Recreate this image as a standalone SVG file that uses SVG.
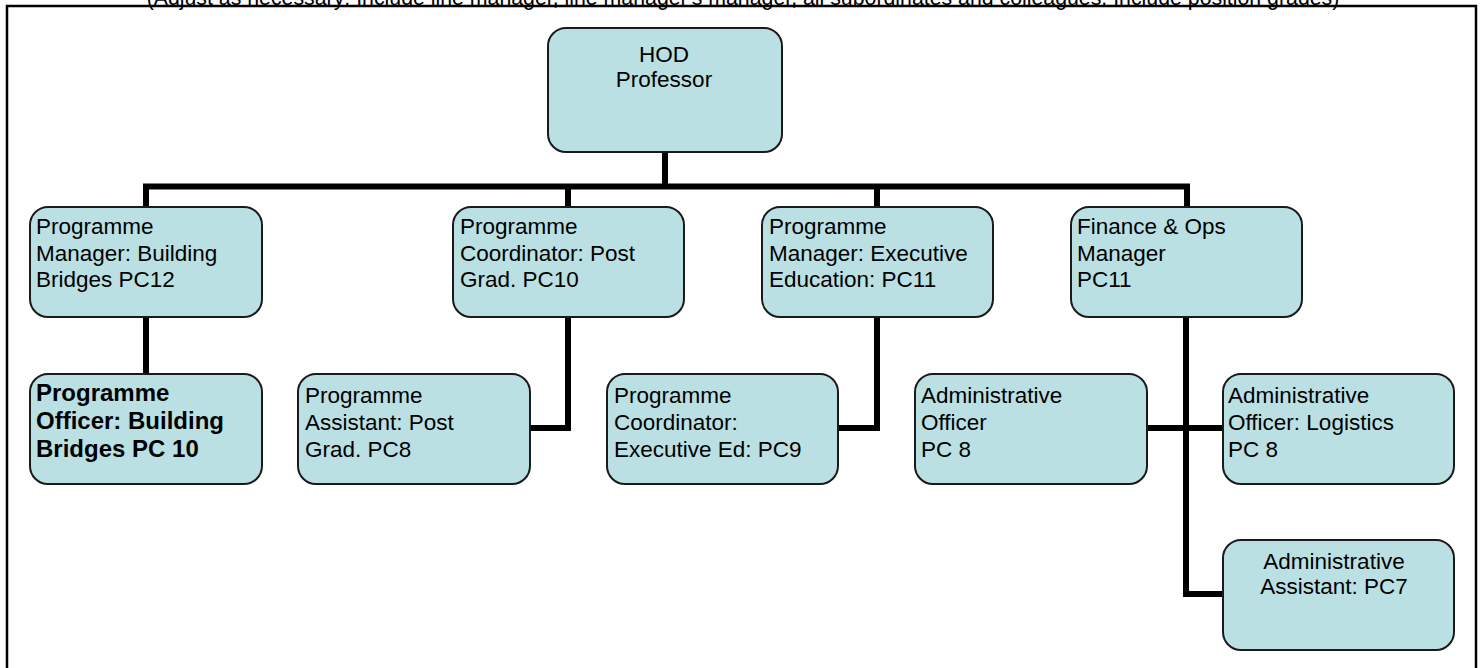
<svg xmlns="http://www.w3.org/2000/svg" width="1483" height="668" viewBox="0 0 1483 668">
<style>
.box{fill:#BAE0E3;stroke:#1a1a1a;stroke-width:2}
.t{font-family:"Liberation Sans",Arial,sans-serif;font-size:22.5px;fill:#000}
.b{font-family:"Liberation Sans",Arial,sans-serif;font-size:24px;font-weight:bold;fill:#000}
.c{text-anchor:middle}
.hdr{font-family:"Liberation Sans",Arial,sans-serif;font-size:21.3px;fill:#000;text-anchor:middle}
.conn{fill:none;stroke:#000;stroke-width:6;stroke-linejoin:miter;stroke-linecap:butt}
</style>
<rect width="1483" height="668" fill="#fff"/>
<rect x="7" y="6" width="1469" height="700" fill="none" stroke="#000" stroke-width="2.5"/>
<text class="hdr" x="743" y="4.5">(Adjust as necessary: Include line manager, line manager's manager, all subordinates and colleagues. Include position grades)</text>
<g id="connectors">
<path class="conn" d="M665 152V186.5M143 186.5H1190M146 186.5V207M568 186.5V207M877 186.5V207M1187 186.5V207"/>
<path class="conn" d="M146 317V374"/>
<path class="conn" d="M568 317V428H530"/>
<path class="conn" d="M877 317V428H838"/>
<path class="conn" d="M1186 317V594H1223M1147 428H1223"/>
</g>
<g id="hod">
<rect class="box" x="548" y="28" width="234" height="124" rx="18"/>
<text class="t c" x="664" y="62">HOD</text>
<text class="t c" x="664" y="87">Professor</text>
</g>
<g id="pm-building-bridges">
<rect class="box" x="30" y="207" width="232" height="110" rx="18"/>
<text class="t" x="36" y="234">Programme</text>
<text class="t" x="36" y="261">Manager: Building</text>
<text class="t" x="36" y="287">Bridges PC12</text>
</g>
<g id="pc-post-grad">
<rect class="box" x="453" y="207" width="231" height="110" rx="18"/>
<text class="t" x="460" y="234">Programme</text>
<text class="t" x="460" y="261">Coordinator: Post</text>
<text class="t" x="460" y="287">Grad. PC10</text>
</g>
<g id="pm-exec-ed">
<rect class="box" x="762" y="207" width="231" height="110" rx="18"/>
<text class="t" x="769" y="234">Programme</text>
<text class="t" x="769" y="261">Manager: Executive</text>
<text class="t" x="769" y="287">Education: PC11</text>
</g>
<g id="finance-ops">
<rect class="box" x="1071" y="207" width="231" height="110" rx="18"/>
<text class="t" x="1077" y="234">Finance &amp; Ops</text>
<text class="t" x="1077" y="261">Manager</text>
<text class="t" x="1077" y="287">PC11</text>
</g>
<g id="po-building-bridges">
<rect class="box" x="30" y="374" width="232" height="110" rx="18"/>
<text class="b" x="36" y="401">Programme</text>
<text class="b" x="36" y="429">Officer: Building</text>
<text class="b" x="36" y="457">Bridges PC 10</text>
</g>
<g id="pa-post-grad">
<rect class="box" x="298" y="374" width="232" height="110" rx="18"/>
<text class="t" x="305" y="403">Programme</text>
<text class="t" x="305" y="430">Assistant: Post</text>
<text class="t" x="305" y="457">Grad. PC8</text>
</g>
<g id="pc-exec-ed">
<rect class="box" x="607" y="374" width="231" height="110" rx="18"/>
<text class="t" x="614" y="403">Programme</text>
<text class="t" x="614" y="430">Coordinator:</text>
<text class="t" x="614" y="457">Executive Ed: PC9</text>
</g>
<g id="admin-officer">
<rect class="box" x="915" y="374" width="232" height="110" rx="18"/>
<text class="t" x="921" y="403">Administrative</text>
<text class="t" x="921" y="430">Officer</text>
<text class="t" x="921" y="457">PC 8</text>
</g>
<g id="admin-officer-logistics">
<rect class="box" x="1223" y="374" width="231" height="110" rx="18"/>
<text class="t" x="1228" y="403">Administrative</text>
<text class="t" x="1228" y="430">Officer: Logistics</text>
<text class="t" x="1228" y="457">PC 8</text>
</g>
<g id="admin-assistant">
<rect class="box" x="1223" y="540" width="231" height="110" rx="18"/>
<text class="t c" x="1334" y="569">Administrative</text>
<text class="t c" x="1334" y="594">Assistant: PC7</text>
</g>
</svg>
